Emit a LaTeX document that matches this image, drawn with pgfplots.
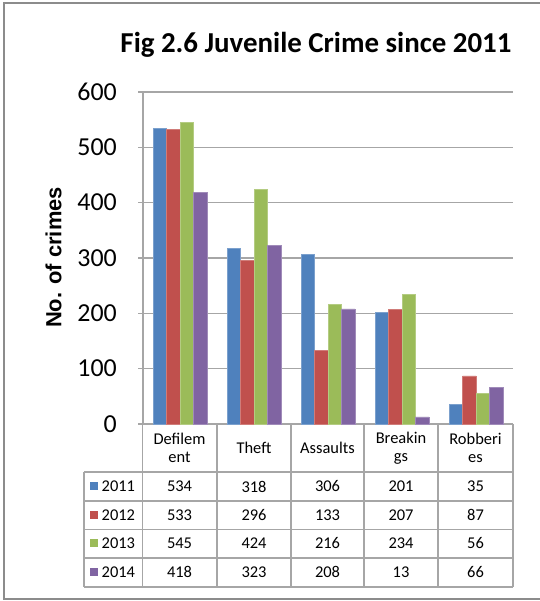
\documentclass[border=0pt]{standalone}
\usepackage{pgfplots}
\pgfplotsset{compat=1.18}
\usepackage{pgfplotstable}
\usepackage{fontspec}
\setmainfont{Carlito}
\newfontfamily\labelfont{Liberation Sans}
\definecolor{c1}{HTML}{4F81BD}
\definecolor{c2}{HTML}{C0504D}
\definecolor{c3}{HTML}{9BBB59}
\definecolor{c4}{HTML}{8064A2}
\definecolor{linec}{HTML}{A6A6A6}
\definecolor{framec}{HTML}{8C8C8C}

\pgfplotstableread{
x a b c d
0 534 533 545 418
1 318 296 424 323
2 306 133 216 208
3 201 207 234 13
4 35 87 56 66
}\crimes

\begin{document}
\begin{tikzpicture}
\useasboundingbox (0,0) rectangle (540bp,-601bp);
% outer frame
\draw[framec, line width=2bp] (540bp,-3bp) -- (3.5bp,-3bp) -- (3.5bp,-599bp) -- (540bp,-599bp);
% title
\node[anchor=base, inner sep=0pt, font=\bfseries\fontsize{29}{29}\selectfont] at (316bp,-52.7bp) {Fig 2.6 Juvenile Crime since 2011};
% y label
\node[rotate=90, inner sep=0pt, font=\labelfont\bfseries\fontsize{22}{22}\selectfont] at (53.5bp,-257.5bp) {No. of crimes};
\begin{axis}[
  at={(143bp,-424bp)}, anchor=south west,
  scale only axis, width=370bp, height=332bp,
  xmin=-0.5, xmax=4.5, ymin=0, ymax=600,
  xtick=\empty, ytick={0,100,...,600},
  axis x line*=bottom, axis y line*=left,
  axis line style={linec, line width=1.2bp},
  ymajorgrids, grid style={linec, line width=1.2bp},
  major tick length=5bp, tick align=outside,
  tick style={linec, line width=1.2bp},
  yticklabel style={font=\fontsize{26}{26}\selectfont, text=black, inner sep=0pt, xshift=-21bp},
  /pgf/number format/assume math mode=true,
  ybar=0pt, bar width=0.182,
  clip=false,
]
\addplot[fill=c1, draw=c1!75!white, line width=0.6bp] table[x=x,y=a]{\crimes};
\addplot[fill=c2, draw=c2!75!white, line width=0.6bp] table[x=x,y=b]{\crimes};
\addplot[fill=c3, draw=c3!75!white, line width=0.6bp] table[x=x,y=c]{\crimes};
\addplot[fill=c4, draw=c4!75!white, line width=0.6bp] table[x=x,y=d]{\crimes};
\end{axis}
% data table
\begin{scope}[x=1bp,y=-1bp]
  \draw[linec, line width=1.2bp]
    (84,472) -- (513,472)
    (84,501) -- (513,501)
    (84,529.5) -- (513,529.5)
    (84,558) -- (513,558)
    (84,587) -- (513,587)
    (84,472) -- (84,587)
    (142.4,424) -- (142.4,587)
    (217,424) -- (217,587)
    (291,424) -- (291,587)
    (364,424) -- (364,587)
    (438,424) -- (438,587)
    (513,424) -- (513,587);
  \foreach \cx/\nm in {179.5/{Defilem\\ent}, 254/{Theft}, 327.5/{Assaults}, 401/{Breakin\\gs}, 475.5/{Robberi\\es}} {
    \node[align=center, inner sep=0pt, font=\fontsize{16.5}{18.5}\selectfont] at (\cx,448) {\nm};
  }
  \foreach \cy/\col/\yr in {486.5/c1/2011, 515/c2/2012, 543.5/c3/2013, 572/c4/2014} {
    \fill[\col] (90,\cy-4.5) rectangle (98,\cy+3.5);
    \node[anchor=west, inner sep=0pt, font=\fontsize{16.5}{18.5}\selectfont] at (101.5,\cy) {\yr};
  }
  \foreach \r/\cx in {0/179.5, 1/254, 2/327.5, 3/401, 4/475.5} {
    \foreach \c/\cy in {a/486.5, b/515, c/543.5, d/572} {
      \pgfplotstablegetelem{\r}{\c}\of\crimes
      \node[inner sep=0pt, font=\fontsize{16.5}{18.5}\selectfont] at (\cx,\cy) {\pgfplotsretval};
    }
  }
\end{scope}
\end{tikzpicture}
\end{document}
